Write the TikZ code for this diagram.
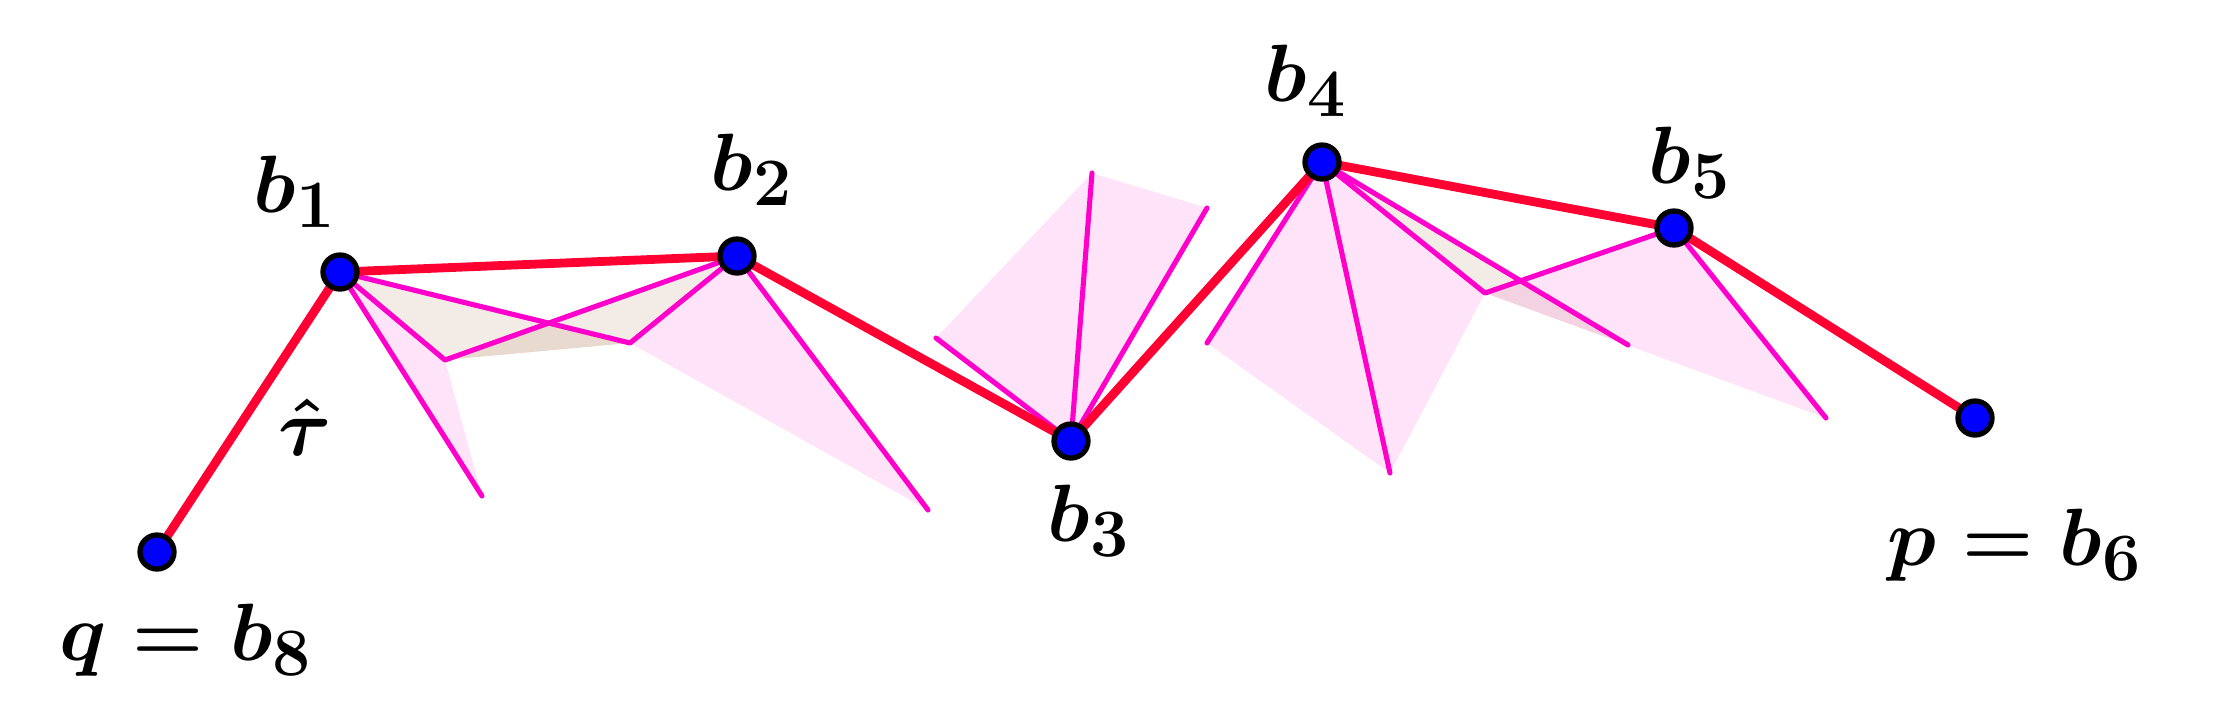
\documentclass[tikz,border=0pt]{standalone}
\definecolor{chainred}{HTML}{FF0033}
\definecolor{conemag}{HTML}{FF00CC}
\definecolor{conetan}{HTML}{934B1C}
\begin{document}
\begin{tikzpicture}
    [x=0.01cm, y=-0.01cm,
     vertex/.style={circle, draw=black, line width=1.5pt, fill=blue, minimum size=3.4mm, inner sep=0pt},
     chain/.style={draw=chainred, line width=2.5pt, line cap=round},
     ray/.style={draw=conemag, line width=1.45pt, line cap=round, line join=round},
     cone/.style={fill=conemag, fill opacity=0.11},
     overlap/.style={fill=conetan, fill opacity=0.11},
     lab/.style={inner sep=0pt, font=\Huge\boldmath, scale=0.93, transform shape}]
    \useasboundingbox (0,0) rectangle (2232,714);
    % Define points
    \coordinate (b8) at (157,552);
    \coordinate (b1) at (340,272);
    \coordinate (b2) at (737,256);
    \coordinate (b3) at (1071,441);
    \coordinate (b4) at (1322,162);
    \coordinate (b5) at (1674,228);
    \coordinate (b6) at (1975,418);
    \coordinate (p1) at (445,360);
    \coordinate (p2) at (630,343);
    \coordinate (e1) at (482,496);
    \coordinate (e2) at (928,510);
    \coordinate (f1) at (936,338);
    \coordinate (f2) at (1092,173);
    \coordinate (f3) at (1207,208);
    \coordinate (g1) at (1207,343);
    \coordinate (g2) at (1390,473);
    \coordinate (g3) at (1485,293);
    \coordinate (h1) at (1628,345);
    \coordinate (k1) at (1826,418);
    % Shaded cones
    \fill[cone] (b1) -- (p1) -- (e1) -- cycle;
    \fill[cone] (b2) -- (p2) -- (e2) -- cycle;
    \fill[cone] (b3) -- (f1) -- (f2) -- (f3) -- cycle;
    \fill[cone] (b4) -- (g1) -- (g2) -- (g3) -- cycle;
    \fill[cone] (b5) -- (g3) -- (k1) -- cycle;
    \fill[overlap] (b1) -- (p1) -- (p2) -- cycle;
    \fill[overlap] (b2) -- (p1) -- (p2) -- cycle;
    \fill[overlap] (b4) -- (g3) -- (h1) -- cycle;
    % Define rays
    \draw[ray] (b1) -- (e1);
    \draw[ray] (b1) -- (p1) -- (b2);
    \draw[ray] (b1) -- (p2) -- (b2);
    \draw[ray] (b2) -- (e2);
    \draw[ray] (b3) -- (f1);
    \draw[ray] (b3) -- (f2);
    \draw[ray] (b3) -- (f3);
    \draw[ray] (b4) -- (g1);
    \draw[ray] (b4) -- (g2);
    \draw[ray] (b4) -- (g3) -- (b5);
    \draw[ray] (b4) -- (h1);
    \draw[ray] (b5) -- (k1);
    % Define edges
    \draw[chain] (b8) -- (b1);
    \draw[chain] (b1) -- (b2);
    \draw[chain] (b2) -- (b3);
    \draw[chain] (b3) -- (b4);
    \draw[chain] (b4) -- (b5);
    \draw[chain] (b5) -- (b6);
    % Define nodes
    \node[vertex] (v8) at (b8) {};
    \node[vertex] (v1) at (b1) {};
    \node[vertex] (v2) at (b2) {};
    \node[vertex] (v3) at (b3) {};
    \node[vertex] (v4) at (b4) {};
    \node[vertex] (v5) at (b5) {};
    \node[vertex] (v6) at (b6) {};
    % Labels
    \node[lab] (l1) at (295,192) {$b_1$};
    \node[lab] (l2) at (752,170) {$b_2$};
    \node[lab] (l3) at (1089,521) {$b_3$};
    \node[lab] (l4) at (1306,81) {$b_4$};
    \node[lab] (l5) at (1690,163) {$b_5$};
    \node[lab] (l6) at (2015,545) {$p = b_6$};
    \node[lab] (l8) at (186,640) {$q = b_8$};
    \node[lab] (tau) at (305,427) {$\hat{\tau}$};
\end{tikzpicture}
\end{document}
